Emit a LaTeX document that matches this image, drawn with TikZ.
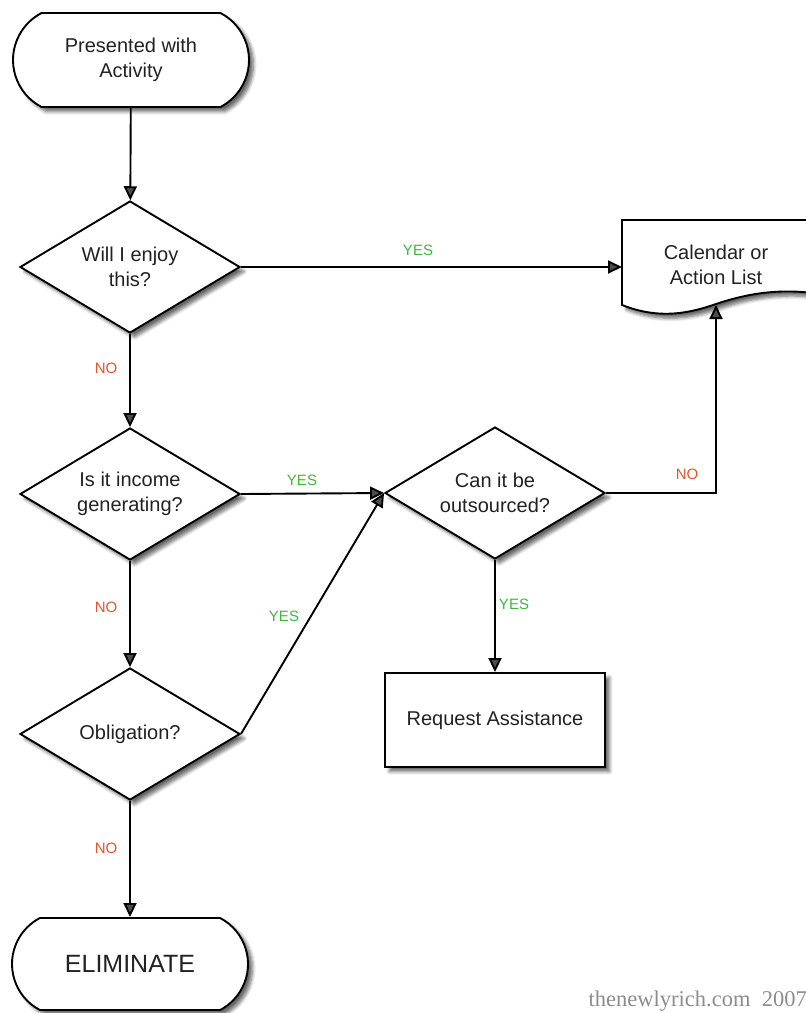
\documentclass[tikz,border=0pt]{standalone}
\usepackage{fontspec}
\setmainfont{Liberation Sans}
\newfontfamily\wmfont{Liberation Serif}
\usetikzlibrary{shapes.geometric,shapes.misc,arrows.meta,shadows.blur}
\definecolor{yesgreen}{HTML}{3DB83D}
\definecolor{nored}{HTML}{E05530}
\definecolor{txt}{HTML}{222222}
\begin{document}
\begin{tikzpicture}[x=1pt,y=-1pt,
  shad/.style={blur shadow={shadow xshift=4.5pt, shadow yshift=-4.5pt, shadow blur steps=6, shadow opacity=60, shadow blur radius=3.5pt}},
  base/.style={draw=black, line width=1.9pt, fill=white, text=txt, font=\fontsize{20}{25}\selectfont, align=center, inner sep=0pt, shad},
  term/.style={base, rounded rectangle, rounded rectangle arc length=125, minimum width=236pt, minimum height=94pt},
  dec/.style={base, diamond, shape aspect=1.7, minimum width=220pt, minimum height=132pt},
  proc/.style={base, rectangle, minimum width=220pt, minimum height=94pt},
  conn/.style={line width=1.9pt, -{Triangle[length=14pt,width=13pt]}},
  yes/.style={text=yesgreen, font=\fontsize{15}{17}\selectfont},
  no/.style={text=nored, font=\fontsize{15}{17}\selectfont},
]
\useasboundingbox (0,0) rectangle (806,1013);
\node[term] (start) at (131,60) {Presented with\\Activity};
\node[dec] (d1) at (130,267) {Will I enjoy\\this?};
\node[dec] (d2) at (130,494) {Is it income\\generating?};
\node[dec] (d3) at (130,734) {Obligation?};
\node[term, minimum height=92pt, font=\fontsize{25}{30}\selectfont] (elim) at (130,964) {ELIMINATE};
\node[dec] (d4) at (495,493) {Can it be\\outsourced?};
\node[proc] (req) at (495,720) {Request Assistance};
% document shape
\path[draw=black, line width=1.9pt, fill=white, shad] (622,220) -- (840,220) -- (840,298)
  .. controls (790,286) and (752,292) .. (716,304)
  .. controls (690,313) and (660,320) .. (622,305) -- cycle;
\node[text=txt, font=\fontsize{20}{25}\selectfont, align=center] (cal) at (716,265) {Calendar or\\Action List};
\coordinate (calL) at (622,267);
\coordinate (calB) at (716,305);
% connectors
\draw[conn] (start) -- (d1);
\draw[conn] (d1.east) -- (calL);
\draw[conn] (d1) -- (d2);
\draw[conn] (d2.east) -- (d4.west);
\draw[conn] (d2) -- (d3);
\draw[conn] (d3.east) -- (d4.west);
\draw[conn] (d3) -- (elim);
\draw[conn] (d4.east) -| (calB);
\draw[conn] (d4) -- (req);
% labels
\node[yes] (y1) at (418,250) {YES};
\node[no] (n1) at (106,368) {NO};
\node[yes] (y2) at (302,480) {YES};
\node[no] (n2) at (106,607) {NO};
\node[yes] (y3) at (284,616) {YES};
\node[no] (n3) at (106,848) {NO};
\node[no] (n4) at (687,474) {NO};
\node[yes] (y4) at (514,604) {YES};
% watermark
\node[anchor=base east, inner sep=0pt, text=black!45, font=\wmfont\fontsize{22.5}{26}\selectfont] (wm) at (807,1006) {thenewlyrich.com\ \ 2007};
\end{tikzpicture}
\end{document}
